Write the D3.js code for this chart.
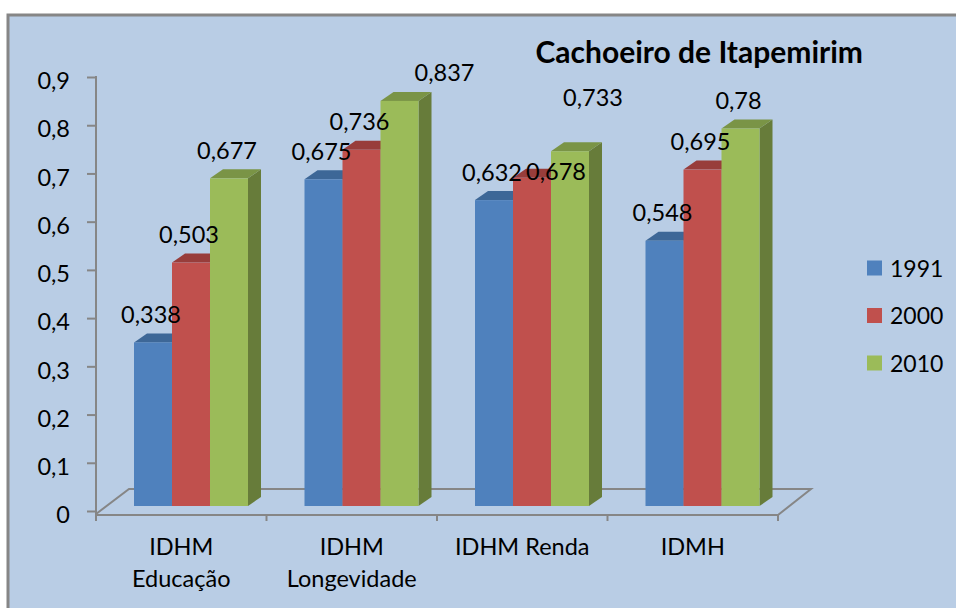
<!DOCTYPE html>
<html>
<head>
<meta charset="utf-8">
<script src="https://cdn.jsdelivr.net/npm/d3@7/dist/d3.min.js"></script>
<style>
  html, body { margin: 0; padding: 0; background: #ffffff; }
  svg { display: block; }
  text { font-family: Lato, "Open Sans", sans-serif; fill: #000; }
</style>
</head>
<body>
<svg id="chart" width="956" height="608"></svg>
<script>
// ---- data ----
const categories = [["IDHM", "Educação"], ["IDHM", "Longevidade"], ["IDHM Renda"], ["IDMH"]];
const seriesNames = ["1991", "2000", "2010"];
const values1991 = [0.338, 0.675, 0.632, 0.548];
const values2000 = [0.503, 0.736, 0.678, 0.695];
const values2010 = [0.677, 0.837, 0.733, 0.78];
const yTicks = [0, 0.1, 0.2, 0.3, 0.4, 0.5, 0.6, 0.7, 0.8, 0.9];
const title = "Cachoeiro de Itapemirim";

// ---- styling ----
const allValues = [values1991, values2000, values2010];
const fronts = ["#4F81BD", "#C0504D", "#9BBB59"];
const tops = ["#3D6797", "#983D3B", "#7A9446"];
const sides = ["#385D89", "#8B3735", "#677C3A"];
const gray = "#868686";
const fs = 23.5;
// manual label nudges (seriesIndex-categoryIndex -> [dx, dy])
const labelNudge = { "2-1": [47, 0], "2-2": [25, -26], "1-2": [26, 22] };

const svg = d3.select("#chart");

// background panel
svg.append("rect").attr("x", 8).attr("y", 15).attr("width", 960).attr("height", 610)
  .attr("fill", "#B9CDE5").attr("stroke", gray).attr("stroke-width", 3);

const catKeys = categories.map((c, i) => i);
const x0 = d3.scaleBand().domain(catKeys).range([96, 778]).paddingInner(0).paddingOuter(0);
const x1 = d3.scaleBand().domain(seriesNames).range([0, 114]);
const yAxisScale = d3.scaleLinear().domain([0, 0.9]).range([511, 77]);
const yBar = d3.scaleLinear().domain([0, 0.9]).range([506, 70.4]);
const depthX = 13, depthY = -9;
const groupOffset = 38;

// floor (back lines)
const floorFrontY = 515, floorBackY = 489, floorDX = 33;
svg.append("path")
  .attr("d", `M${x0.range()[0]},${floorFrontY - 1} L${x0.range()[0] + floorDX},${floorBackY} L${x0.range()[1] + floorDX},${floorBackY} L${x0.range()[1]},${floorFrontY}`)
  .attr("fill", "none").attr("stroke", gray).attr("stroke-width", 2);

// y axis
const yAxis = d3.axisLeft(yAxisScale).tickValues(yTicks).tickSize(9).tickPadding(17)
  .tickFormat(d => d3.format(".1f")(d).replace(".", ",").replace(/^0,0$/, "0"));
const yg = svg.append("g").attr("transform", "translate(96,0)").call(yAxis);
yg.select(".domain").remove();
yg.selectAll(".tick line").attr("stroke", gray).attr("stroke-width", 2);
yg.selectAll(".tick text").attr("font-size", fs).attr("dy", "0.5em").style("font-family", "Lato, sans-serif").attr("fill", "#000");
svg.append("line").attr("x1", 96).attr("x2", 96).attr("y1", 76).attr("y2", 520)
  .attr("stroke", gray).attr("stroke-width", 2);

// x axis
svg.append("line").attr("x1", 96).attr("x2", 778).attr("y1", floorFrontY).attr("y2", floorFrontY)
  .attr("stroke", gray).attr("stroke-width", 2);
const xTickPos = catKeys.map(k => x0(k)).concat([x0.range()[1]]);
svg.selectAll(".xtick").data(xTickPos).join("line")
  .attr("x1", d => d).attr("x2", d => d).attr("y1", floorFrontY).attr("y2", 521)
  .attr("stroke", gray).attr("stroke-width", 2);

// bars
const bars = svg.append("g");
catKeys.forEach(ci => {
  seriesNames.forEach((s, si) => {
    const v = allValues[si][ci];
    const xl = x0(ci) + groupOffset + x1(s);
    const xr = xl + x1.bandwidth();
    const yt = yBar(v), yb = yBar(0);
    bars.append("path")
      .attr("d", `M${xr},${yt} L${xr + depthX},${yt + depthY} L${xr + depthX},${yb + depthY} L${xr},${yb} Z`)
      .attr("fill", sides[si]);
    bars.append("path")
      .attr("d", `M${xl},${yt} L${xl + depthX},${yt + depthY} L${xr + depthX},${yt + depthY} L${xr},${yt} Z`)
      .attr("fill", tops[si]);
    bars.append("rect").attr("x", xl).attr("y", yt).attr("width", x1.bandwidth()).attr("height", yb - yt)
      .attr("fill", fronts[si]);
  });
});

// data labels
const labels = svg.append("g");
catKeys.forEach(ci => {
  seriesNames.forEach((s, si) => {
    const v = allValues[si][ci];
    const nudge = labelNudge[`${si}-${ci}`] || [0, 0];
    const cx = x0(ci) + groupOffset + x1(s) + x1.bandwidth() / 2 - 2 + nudge[0];
    labels.append("text").attr("x", cx).attr("y", yBar(v) - 19.5 + nudge[1])
      .attr("text-anchor", "middle").attr("font-size", fs)
      .text(String(v).replace(".", ","));
  });
});

// category labels
const cl = svg.append("g");
catKeys.forEach(ci => {
  const cx = x0(ci) + x0.bandwidth() / 2;
  categories[ci].forEach((line, li) => {
    cl.append("text").attr("x", cx).attr("y", 555 + li * 32).attr("text-anchor", "middle")
      .attr("font-size", fs).text(line);
  });
});

// legend
const lg = svg.append("g");
seriesNames.forEach((s, si) => {
  const cy = 268 + si * 47.5;
  lg.append("rect").attr("x", 867).attr("y", cy - 7.5).attr("width", 15).attr("height", 15).attr("fill", fronts[si]);
  lg.append("text").attr("x", 890).attr("y", cy + 8.5).attr("font-size", 23).text(s);
});

// title
svg.append("text").attr("x", 863).attr("y", 63).attr("text-anchor", "end")
  .attr("font-size", 30).attr("font-weight", "bold").text(title);
</script>
</body>
</html>
